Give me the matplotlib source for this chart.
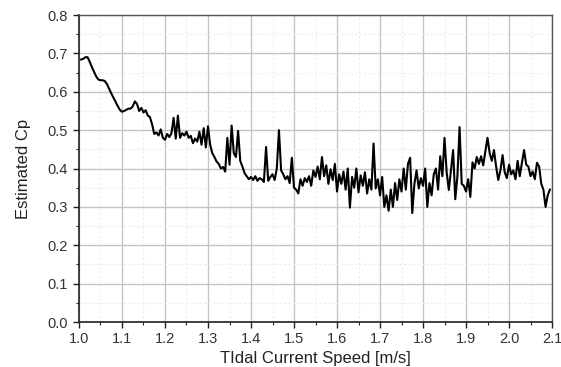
import numpy as np
import matplotlib
matplotlib.use("Agg")
import matplotlib.pyplot as plt
from matplotlib.ticker import MultipleLocator, FormatStrFormatter

cp = [
    0.684, 0.686, 0.690, 0.690, 0.678, 0.664, 0.652, 0.640, 0.632, 0.630,
    0.630, 0.628, 0.620, 0.608, 0.596, 0.585, 0.574, 0.563, 0.553, 0.548,
    0.550, 0.553, 0.556, 0.556, 0.562, 0.575, 0.568, 0.550, 0.558, 0.546,
    0.552, 0.538, 0.534, 0.515, 0.490, 0.494, 0.486, 0.502, 0.480, 0.475,
    0.490, 0.482, 0.492, 0.532, 0.478, 0.538, 0.480, 0.492, 0.486, 0.496,
    0.480, 0.485, 0.466, 0.478, 0.470, 0.496, 0.462, 0.505, 0.455, 0.510,
    0.462, 0.440, 0.430, 0.418, 0.412, 0.400, 0.404, 0.392, 0.480, 0.410,
    0.512, 0.440, 0.430, 0.498, 0.420, 0.405, 0.388, 0.380, 0.372, 0.378,
    0.370, 0.380, 0.368, 0.375, 0.372, 0.365, 0.456, 0.368, 0.378, 0.385,
    0.370, 0.400, 0.500, 0.395, 0.385, 0.372, 0.380, 0.362, 0.428, 0.350,
    0.345, 0.335, 0.372, 0.355, 0.375, 0.365, 0.380, 0.355, 0.395, 0.378,
    0.405, 0.372, 0.430, 0.380, 0.408, 0.360, 0.398, 0.370, 0.412, 0.340,
    0.385, 0.360, 0.392, 0.345, 0.400, 0.298, 0.378, 0.350, 0.400, 0.338,
    0.382, 0.355, 0.390, 0.335, 0.372, 0.345, 0.465, 0.348, 0.372, 0.330,
    0.378, 0.300, 0.330, 0.290, 0.345, 0.300, 0.362, 0.318, 0.372, 0.340,
    0.400, 0.345, 0.412, 0.428, 0.284, 0.360, 0.395, 0.348, 0.375, 0.355,
    0.400, 0.300, 0.362, 0.330, 0.385, 0.400, 0.345, 0.432, 0.380, 0.480,
    0.390, 0.344, 0.395, 0.448, 0.320, 0.380, 0.508, 0.360, 0.355, 0.340,
    0.372, 0.326, 0.416, 0.400, 0.430, 0.412, 0.432, 0.408, 0.445, 0.480,
    0.440, 0.420, 0.448, 0.405, 0.370, 0.395, 0.435, 0.390, 0.375, 0.410,
    0.385, 0.395, 0.372, 0.420, 0.380, 0.415, 0.448, 0.410, 0.405, 0.380,
    0.392, 0.372, 0.415, 0.405, 0.360, 0.345, 0.300, 0.330, 0.345,
]
speed_start, speed_end = 1.005, 2.095
speed = np.linspace(speed_start, speed_end, len(cp))

plt.rcParams['font.family'] = ['Liberation Sans', 'DejaVu Sans']

fig = plt.figure(figsize=(5.61, 3.67), dpi=100)
ax = fig.add_axes([0.1408, 0.1226, 0.8432, 0.8365])

ax.plot(speed, cp, color='black', linewidth=1.5)

ax.set_xlim(1.0, 2.1)
ax.set_ylim(0.0, 0.8)
ax.xaxis.set_major_locator(MultipleLocator(0.1))
ax.xaxis.set_minor_locator(MultipleLocator(0.05))
ax.yaxis.set_major_locator(MultipleLocator(0.1))
ax.yaxis.set_minor_locator(MultipleLocator(0.05))
ax.xaxis.set_major_formatter(FormatStrFormatter('%.1f'))
ax.yaxis.set_major_formatter(FormatStrFormatter('%.1f'))

ax.grid(which='major', color='#c4c4c4', linewidth=1.0)
ax.grid(which='minor', color='#ececec', linewidth=0.8, linestyle=(0, (2, 2)))
ax.set_axisbelow(True)

for side in ['left', 'bottom']:
    ax.spines[side].set_color('#222222')
    ax.spines[side].set_linewidth(1.2)
for side in ['top', 'right']:
    ax.spines[side].set_color('#555555')
    ax.spines[side].set_linewidth(1.0)

ax.tick_params(which='major', direction='out', length=4, width=1, colors='#222222',
               labelsize=10.5, labelcolor='#333333')
ax.tick_params(which='minor', direction='out', length=2.5, width=0.8, colors='#222222')
ax.tick_params(axis='x', pad=3)
ax.tick_params(axis='y', pad=4)

ax.set_xlabel('TIdal Current Speed [m/s]', fontsize=12, color='#222222', labelpad=4)
ax.set_ylabel('Estimated Cp', fontsize=12, color='#222222', labelpad=12)

fig.savefig('out.png', dpi=100)
